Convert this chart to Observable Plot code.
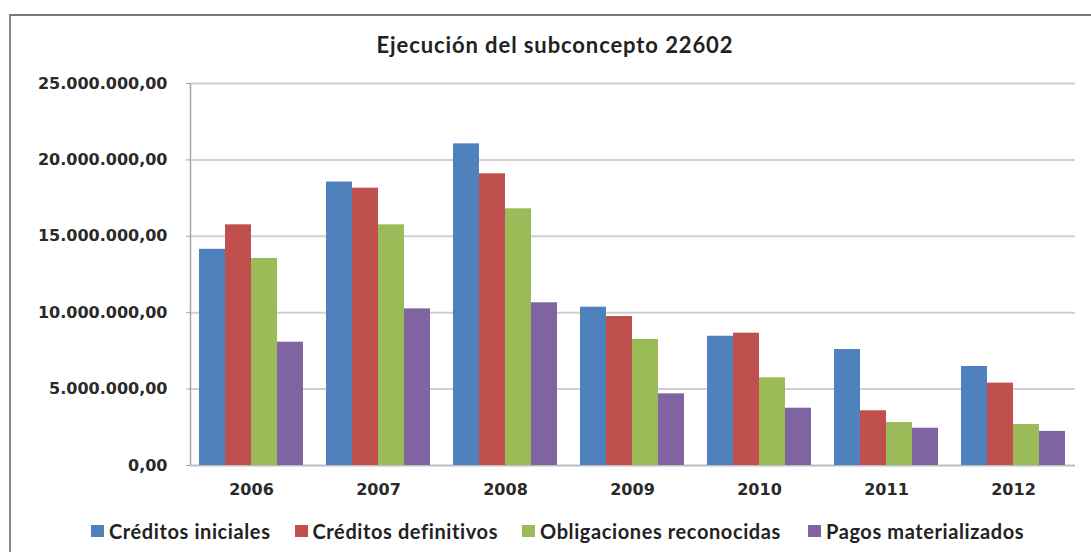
<!DOCTYPE html>
<html>
<head>
<meta charset="utf-8">
<script src="https://cdn.jsdelivr.net/npm/d3@7"></script>
<script src="https://cdn.jsdelivr.net/npm/@observablehq/plot@0.6"></script>
<style>
  html, body { margin: 0; padding: 0; background: #fff; }
  #chart { position: relative; width: 1091px; height: 552px; overflow: hidden; background: #fff; }
  #frame { position: absolute; left: 9px; top: 14px; width: 1100px; height: 600px;
           border-left: 2px solid #8a8a8a; border-top: 2px solid #7a7a7a; box-sizing: border-box; }
  #title { position: absolute; left: 0; width: 1110px; top: 31px; text-align: center;
           font-family: Lato, "Open Sans", sans-serif; font-weight: bold; font-size: 22px; color: #222; letter-spacing: 0.9px; }
  .layer { position: absolute; left: 0; top: 60px; }
  #legend { position: absolute; left: 91px; top: 519px; display: flex; align-items: center;
            font-family: Lato, sans-serif; font-weight: bold; font-size: 20px; color: #222; letter-spacing: 0.6px; }
  .item { display: flex; align-items: center; margin-right: 24px; }
  .item:nth-child(3) { margin-right: 27px; }
  .sw { width: 13px; height: 12px; margin-right: 5px; }
</style>
</head>
<body>
<div id="chart">
  <div id="frame"></div>
  <div id="title">Ejecución del subconcepto 22602</div>
  <div id="bg" class="layer"></div>
  <div id="fg" class="layer"></div>
  <div id="legend"></div>
</div>
<script>
const years = ["2006", "2007", "2008", "2009", "2010", "2011", "2012"];
const seriesNames = ["Créditos iniciales", "Créditos definitivos", "Obligaciones reconocidas", "Pagos materializados"];
const creditosIniciales    = [14150000, 18550000, 21050000, 10360000, 8460000, 7590000, 6480000];
const creditosDefinitivos  = [15750000, 18150000, 19090000, 9750000, 8660000, 3580000, 5390000];
const obligaciones         = [13550000, 15750000, 16800000, 8250000, 5740000, 2810000, 2680000];
const pagos                = [8070000, 10250000, 10650000, 4690000, 3750000, 2440000, 2230000];
const seriesColors = ["#4F81BD", "#C0504D", "#9BBB59", "#8064A2"];
const yTicks = [0, 5000000, 10000000, 15000000, 20000000, 25000000];

const allSeries = [creditosIniciales, creditosDefinitivos, obligaciones, pagos];
const data = [];
years.forEach((yr, i) => {
  seriesNames.forEach((s, j) => data.push({year: yr, series: s, value: allSeries[j][i]}));
});

const esFmt = d3.formatLocale({decimal: ",", thousands: ".", grouping: [3], currency: ["", " €"]}).format(",.2f");

const W = 1091, H = 445, ML = 190, MR = 16, MT = 23, MB = 40;
const yScale = {domain: [0, 25000000], ticks: yTicks};

const bg = Plot.plot({
  width: W, height: H, marginLeft: ML, marginRight: MR, marginTop: MT, marginBottom: MB,
  style: {background: "transparent", fontFamily: "'DejaVu Sans', sans-serif", fontSize: "16px", fontWeight: "bold", color: "#2a2a2a"},
  x: {domain: [0, 1], axis: null},
  y: {...yScale, axis: null},
  marks: [
    Plot.ruleY(yTicks.slice(1), {stroke: "#cfcfcf", strokeWidth: 2, strokeOpacity: 1}),
    Plot.axisY({ticks: yTicks, tickFormat: esFmt, tickSize: 4, tickPadding: 19, stroke: "#a0a0a0", label: null, style: "letter-spacing:2px"}),
    Plot.ruleX([0], {stroke: "#a6a6a6", strokeWidth: 1.5}),
    Plot.ruleY([0], {stroke: "#bdbdbd", strokeWidth: 2})
  ]
});
document.getElementById("bg").appendChild(bg);

const fg = Plot.plot({
  width: W, height: H, marginLeft: ML, marginRight: MR, marginTop: MT, marginBottom: MB,
  style: {background: "transparent", fontFamily: "'DejaVu Sans', sans-serif", fontSize: "16px", fontWeight: "bold", color: "#2a2a2a"},
  fx: {domain: years, paddingInner: 0.164, paddingOuter: 0.065, label: null},
  x: {domain: seriesNames, padding: 0, axis: null},
  y: {...yScale, axis: null},
  color: {domain: seriesNames, range: seriesColors},
  marks: [
    Plot.barY(data, {fx: "year", x: "series", y: "value", fill: "series", inset: 0}),
    Plot.axisFx({anchor: "bottom", tickSize: 0, tickPadding: 18, label: null, style: "letter-spacing:1.5px"})
  ]
});
document.getElementById("fg").appendChild(fg);

const legend = document.getElementById("legend");
seriesNames.forEach((s, j) => {
  const it = document.createElement("div");
  it.className = "item";
  const sw = document.createElement("div");
  sw.className = "sw";
  sw.style.background = seriesColors[j];
  const tx = document.createElement("span");
  tx.textContent = s;
  it.appendChild(sw); it.appendChild(tx);
  legend.appendChild(it);
});
</script>
</body>
</html>
